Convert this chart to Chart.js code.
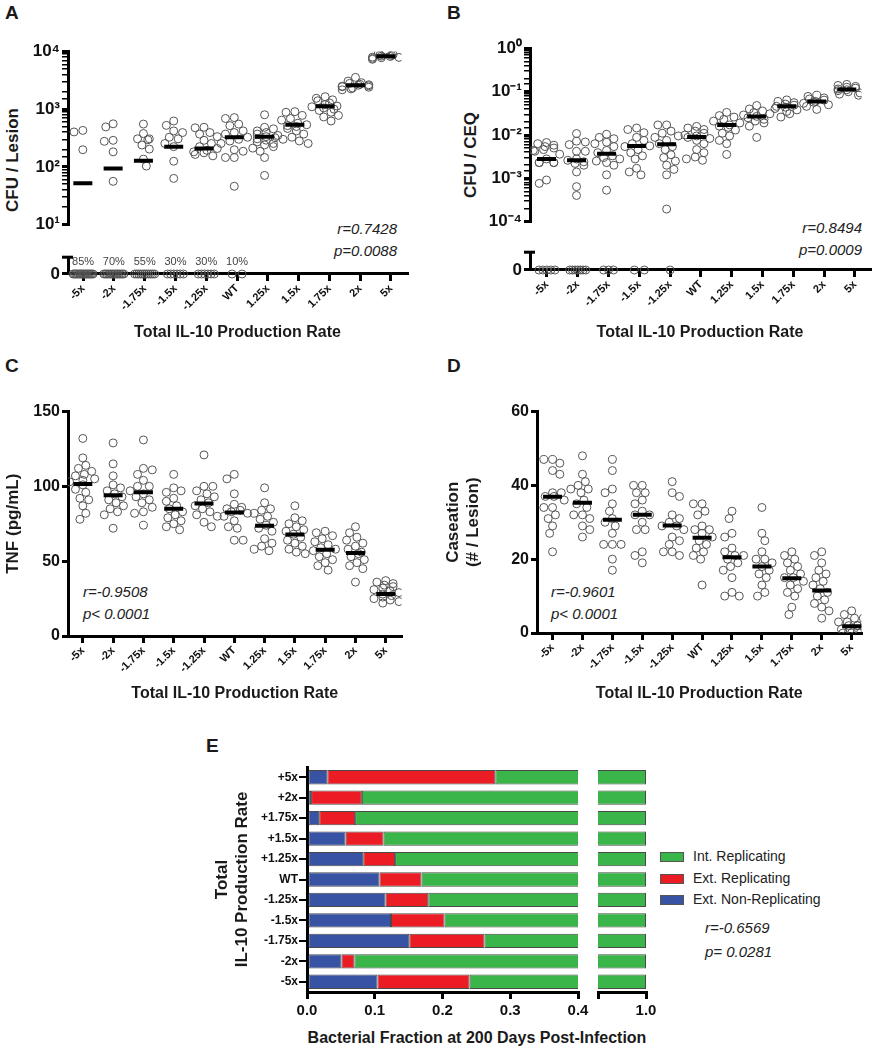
<!DOCTYPE html>
<html lang="en">
<head>
<meta charset="UTF-8">
<title>IL-10 production rate</title>
<script src="https://cdn.jsdelivr.net/npm/chart.js"></script>
<style>
  body { margin: 0; background: #fff; }
  #fig { position: relative; width: 877px; height: 1050px; font-family: "Liberation Sans", Arial, sans-serif; color: #1a1a1a; }
  #fig canvas { position: absolute; }
  .letter { position: absolute; font-weight: bold; font-size: 19px; }
  .stat { position: absolute; font-style: italic; font-size: 15px; line-height: 22px; color: #222; }
  .ytitle { position: absolute; transform: translate(-50%, -50%) rotate(-90deg); font-weight: bold; font-size: 17px; white-space: nowrap; }
  .xtitle { position: absolute; font-weight: bold; font-size: 16px; text-align: center; white-space: nowrap; }
  .leg { position: absolute; font-size: 14px; color: #222; }
  .leg div { height: 21.5px; line-height: 21.5px; white-space: nowrap; }
  .leg span { display: inline-block; width: 22px; height: 8px; border: 1px solid #555; margin-right: 9px; vertical-align: middle; }
</style>
</head>
<body>
<div id="fig">
  <div class="letter" style="left:5px;top:2px">A</div>
  <div class="letter" style="left:447px;top:2px">B</div>
  <div class="letter" style="left:5px;top:355px">C</div>
  <div class="letter" style="left:447px;top:355px">D</div>
  <div class="letter" style="left:206px;top:735px">E</div>

  <div class="ytitle" style="left:13px;top:160px">CFU / Lesion</div>
  <div class="ytitle" style="left:471px;top:155px">CFU / CEQ</div>

  <div class="stat" style="left:297px;top:218px;width:100px;text-align:right">r=0.7428<br>p=0.0088</div>
  <div class="stat" style="left:762px;top:217px;width:100px;text-align:right">r=0.8494<br>p=0.0009</div>
  <div class="stat" style="left:83px;top:581px">r=-0.9508<br>p&lt; 0.0001</div>
  <div class="stat" style="left:551px;top:581px">r=-0.9601<br>p&lt; 0.0001</div>
  <div class="stat" style="left:705px;top:916px;line-height:24px">r=-0.6569<br>p= 0.0281</div>

  <div class="leg" id="legE" style="left:660px;top:846px"></div>
  <div class="xtitle" style="left:277px;top:1028px;width:400px;line-height:20px">Bacterial Fraction at 200 Days Post-Infection</div>

  <canvas id="cA1" width="415" height="200" style="left:0;top:38px"></canvas>
  <canvas id="cA2" width="415" height="97" style="left:0;top:245px"></canvas>
  <canvas id="cB1" width="435" height="200" style="left:440px;top:35px"></canvas>
  <canvas id="cB2" width="435" height="102" style="left:440px;top:240px"></canvas>
  <canvas id="cC" width="415" height="305" style="left:0;top:398px"></canvas>
  <canvas id="cD" width="435" height="305" style="left:440px;top:398px"></canvas>
  <canvas id="cE1" width="392" height="270" style="left:200px;top:755px"></canvas>
  <canvas id="cE2" width="80" height="270" style="left:590px;top:755px"></canvas>
</div>

<script>
// categories (x axis of panels A-D)
const CATS = ['-5x', '-2x', '-1.75x', '-1.5x', '-1.25x', 'WT', '1.25x', '1.5x', '1.75x', '2x', '5x'];

// A: CFU / Lesion (non-zero lesions), medians, lesions at zero
const cfuLesion = [
  [428, 403, 198],
  [557, 492, 288, 277, 182, 56],
  [551, 378, 306, 306, 295, 239, 203, 136, 103],
  [624, 524, 419, 393, 326, 306, 254, 224, 125, 63],
  [485, 475, 393, 370, 334, 288, 254, 224, 208, 193, 182, 175, 164, 155],
  [714, 689, 551, 518, 420, 393, 370, 326, 300, 280, 254, 198, 186, 145, 145, 46],
  [800, 485, 456, 419, 393, 370, 350, 334, 320, 306, 290, 271, 254, 240, 224, 211, 186, 145, 71],
  [906, 884, 780, 689, 647, 571, 537, 518, 500, 463, 419, 370, 326, 300, 281, 254],
  [1644, 1545, 1452, 1400, 1282, 1200, 1133, 1100, 1050, 1000, 950, 884, 780, 733, 624],
  [3558, 3064, 2879, 2800, 2706, 2650, 2600, 2543, 2500, 2450, 2400, 2333, 2250, 2165],
  [10640, 9400, 8830, 8600, 8500, 8300, 8200, 8000, 7900, 7800, 7600, 7330]
];
const cfuLesionMed = [52, 94, 128, 224, 208, 326, 334, 537, 1120, 2600, 8300];
const cfuLesionZero = [17, 14, 11, 6, 6, 2, 0, 0, 0, 0, 0];
const cfuLesionZeroPct = ['85%', '70%', '55%', '30%', '30%', '10%', '', '', '', '', ''];

// B: CFU / CEQ
const cfuCeq = [
  [0.0067, 0.0063, 0.0058, 0.0054, 0.0050, 0.0046, 0.0044, 0.0042, 0.0036, 0.0028, 0.0023, 0.0023, 0.0023, 0.0023, 0.00091, 0.00076],
  [0.0108, 0.0072, 0.0069, 0.0060, 0.0042, 0.0042, 0.0028, 0.0026, 0.0024, 0.0022, 0.0020, 0.0014, 0.00064, 0.0004],
  [0.0104, 0.0088, 0.0082, 0.0068, 0.0063, 0.0054, 0.0044, 0.0039, 0.0033, 0.0030, 0.0028, 0.0025, 0.0023, 0.0020, 0.0012, 0.00053],
  [0.0145, 0.0134, 0.0113, 0.0088, 0.0075, 0.0063, 0.0056, 0.0054, 0.0046, 0.0039, 0.0033, 0.0028, 0.0017, 0.0014, 0.0012],
  [0.0171, 0.0171, 0.0123, 0.0110, 0.0095, 0.0088, 0.0075, 0.0063, 0.0054, 0.0046, 0.0035, 0.0030, 0.0025, 0.0020, 0.0016, 0.0012, 0.000194],
  [0.0158, 0.0145, 0.0134, 0.0123, 0.0110, 0.0100, 0.0095, 0.0088, 0.0083, 0.0075, 0.0063, 0.0046, 0.0039, 0.0031, 0.0028, 0.0026],
  [0.0333, 0.0281, 0.0260, 0.0230, 0.0210, 0.0190, 0.0171, 0.0160, 0.0150, 0.0130, 0.0110, 0.0095, 0.0075, 0.0063, 0.00355],
  [0.048, 0.040, 0.036, 0.033, 0.031, 0.029, 0.027, 0.025, 0.023, 0.021, 0.019, 0.016, 0.0088],
  [0.0647, 0.060, 0.056, 0.052, 0.049, 0.046, 0.044, 0.041, 0.038, 0.035, 0.031, 0.026],
  [0.083, 0.078, 0.072, 0.068, 0.064, 0.060, 0.057, 0.054, 0.050, 0.046, 0.039],
  [0.148, 0.140, 0.133, 0.127, 0.121, 0.116, 0.111, 0.106, 0.100, 0.094, 0.088, 0.083]
];
const cfuCeqMed = [0.0028, 0.0026, 0.0037, 0.0056, 0.0061, 0.0090, 0.0171, 0.0268, 0.0464, 0.0595, 0.112];
const cfuCeqZero = [5, 7, 3, 2, 1, 0, 0, 0, 0, 0, 0];

// C: TNF (pg/mL)
const tnf = [
  [132, 119, 114, 112, 110, 108, 107, 105, 104, 103, 101, 98, 96, 92, 91, 87, 82, 78],
  [129, 115, 107, 101, 99, 97, 95, 93, 91, 89, 87, 85, 83, 81, 72],
  [131, 112, 111, 108, 104, 100, 100, 97, 95, 93, 91, 89, 86, 83, 82, 74],
  [108, 99, 97, 96, 92, 90, 87, 85, 83, 81, 79, 77, 75, 73, 71],
  [121, 100, 100, 97, 95, 93, 91, 89, 87, 85, 83, 81, 80, 76, 73],
  [108, 105, 95, 88, 86, 85, 84, 83, 82, 80, 77, 73, 72, 64, 64],
  [99, 89, 85, 84, 82, 80, 78, 76, 74, 72, 70, 65, 62, 60, 58, 57],
  [87, 79, 77, 75, 73, 71, 70, 68, 66, 64, 62, 60, 58, 56, 55],
  [70, 69, 67, 65, 63, 61, 59, 58, 57, 55, 53, 51, 49, 47, 44],
  [73, 69, 66, 64, 62, 60, 58, 56, 55, 53, 51, 49, 47, 45, 36],
  [37, 36, 35, 34, 33, 32, 31, 30, 29, 28, 27, 26, 25, 24, 23, 22]
];
const tnfMed = [101.5, 94, 96, 85, 88.6, 82.5, 73.7, 67.8, 57.7, 55.5, 28];

// D: Caseation (# / Lesion)
const caseation = [
  [47, 47, 46, 44, 43, 38, 38, 37, 37, 36, 34, 34, 32, 31, 29, 27, 22],
  [48, 43, 41, 40, 39, 39, 38, 36, 35, 34, 32, 32, 31, 29, 28, 26],
  [47, 44, 39, 38, 35, 33, 31, 30, 29, 27, 24, 24, 24, 20, 17],
  [40, 40, 38, 38, 36, 35, 33, 32, 32, 30, 28, 28, 22, 21, 19],
  [41, 38, 37, 32, 31, 30, 29, 29, 28, 26, 25, 24, 22, 22, 21],
  [35, 35, 33, 32, 29, 28, 28, 27, 26, 25, 24, 23, 22, 21, 20, 13],
  [33, 31, 27, 26, 23, 22, 21, 21, 20, 19, 18, 17, 15, 11, 10, 10],
  [34, 27, 25, 22, 20, 20, 19, 18, 17, 16, 15, 13, 11, 10],
  [22, 21, 20, 19, 18, 17, 16, 15, 15, 14, 13, 12, 11, 10, 7, 5],
  [22, 21, 19, 17, 16, 15, 14, 13, 12, 11, 10, 9, 8, 7, 6, 4],
  [6, 5, 4, 4, 3, 3, 2, 2, 2, 1, 1, 1, 0, 0, 0]
];
const caseationMed = [36.9, 35.3, 30.7, 32, 29.1, 25.8, 20.5, 18, 14.8, 11.5, 1.8];

// E: bacterial fractions at 200 days
const eCats = ['-5x', '-2x', '-1.75x', '-1.5x', '-1.25x', 'WT', '+1.25x', '+1.5x', '+1.75x', '+2x', '+5x'];
const eNonRep = [0.104, 0.051, 0.151, 0.124, 0.116, 0.107, 0.083, 0.057, 0.018, 0.006, 0.030];
const eExtRep = [0.136, 0.019, 0.111, 0.079, 0.063, 0.062, 0.047, 0.056, 0.053, 0.075, 0.248];
const eIntRep = [0.760, 0.930, 0.738, 0.797, 0.821, 0.831, 0.870, 0.887, 0.929, 0.919, 0.722];

const FONT = '"Liberation Sans", Arial, Helvetica, sans-serif';
Chart.defaults.font.family = FONT;
Chart.defaults.color = '#111';
Chart.defaults.animation = false;
Chart.defaults.events = [];
Chart.defaults.plugins.legend.display = false;
Chart.defaults.plugins.tooltip.enabled = false;

const X_PX = 30.8; // pixels per category
const SUP = { '0': '⁰', '1': '¹', '2': '²', '3': '³', '4': '⁴', '-': '⁻' };
const axisLine = { display: true, color: '#000', width: 3 };
const tickGrid = len => ({ drawOnChartArea: false, color: '#000', lineWidth: 3, tickLength: len, offset: false });

const isDecade = v => Math.abs(Math.log10(v) - Math.round(Math.log10(v))) < 1e-6;
const pow10 = v => '10' + String(Math.round(Math.log10(v))).split('').map(c => SUP[c]).join('');

// spread points sideways so circles don't sit on top of each other
function swarm(vals, toPx, r) {
  const off = new Array(vals.length).fill(0);
  const placed = [];
  const order = vals.map((v, i) => i).sort((a, b) => vals[b] - vals[a]);
  order.forEach((i, k) => {
    const y = toPx(vals[i]);
    const s = k % 2 ? -1 : 1;
    const cands = [0];
    for (let d = 1.5; d <= 13.5; d += 1.5) cands.push(s * d, -s * d);
    let best = 0, bestHits = Infinity;
    for (const c of cands) {
      let hits = 0;
      placed.forEach(p => { if ((c - p.x) ** 2 + (y - p.y) ** 2 < 4 * r * r) hits++; });
      if (hits < bestHits) { best = c; bestHits = hits; if (!hits) break; }
    }
    off[i] = best;
    placed.push({ x: best, y });
  });
  return off;
}

function dotSets(values, medians, toPx) {
  const pts = [];
  values.forEach((arr, i) => {
    const off = swarm(arr, toPx, 4);
    arr.forEach((v, j) => pts.push({ x: i + off[j] / X_PX, y: v }));
  });
  return [
    { data: medians.map((m, i) => ({ x: i, y: m })), pointStyle: 'line', pointRadius: 9.5,
      pointBorderWidth: 4, pointBorderColor: '#000', borderColor: '#000' },
    { data: pts, pointRadius: 4, pointBorderWidth: 1, pointBorderColor: '#555',
      pointBackgroundColor: 'rgba(255,255,255,0)' }
  ];
}

function catAxis(min, max, h) {
  return {
    type: 'linear', min, max,
    afterBuildTicks: s => { s.ticks = CATS.map((c, i) => ({ value: i })); },
    afterFit: s => { s.height = h; },
    border: axisLine,
    grid: tickGrid(7),
    ticks: { callback: v => CATS[v], minRotation: 45, maxRotation: 45, autoSkip: false,
             font: { size: 11, weight: 'bold' }, color: '#111', padding: 1 },
    title: { display: true, text: 'Total IL-10 Production Rate', color: '#1a1a1a',
             font: { size: 16, weight: 'bold' }, padding: { top: 4, bottom: 0 } }
  };
}

function logAxis(min, max, w) {
  return {
    type: 'logarithmic', min, max,
    afterFit: s => { s.width = w; },
    border: axisLine,
    grid: { drawOnChartArea: false, color: '#000', tickLength: 6,
            lineWidth: c => (c.tick && isDecade(c.tick.value)) ? 3 : 1.5 },
    ticks: { autoSkip: false, callback: v => isDecade(v) ? pow10(v) : '',
             font: { size: 17, weight: 'bold' }, color: '#111', padding: 2 }
  };
}

// short cap at the top of the broken y axis
const capPlugin = {
  id: 'cap',
  afterDraw(chart) {
    const { ctx, chartArea: a } = chart;
    ctx.save();
    ctx.strokeStyle = '#000';
    ctx.lineWidth = 3;
    ctx.beginPath();
    ctx.moveTo(a.left - 6, a.top);
    ctx.lineTo(a.left + 5, a.top);
    ctx.stroke();
    ctx.restore();
  }
};

const pctPlugin = labels => ({
  id: 'pct',
  afterDatasetsDraw(chart) {
    if (!labels) return;
    const { ctx, scales: { x, y } } = chart;
    ctx.save();
    ctx.font = '11px ' + FONT;
    ctx.fillStyle = '#444';
    ctx.textAlign = 'center';
    ctx.textBaseline = 'middle';
    labels.forEach((t, i) => { if (t) ctx.fillText(t, x.getPixelForValue(i), y.getPixelForValue(0) - 12); });
    ctx.restore();
  }
});

function upperChart(id, values, medians, toPx, o) {
  new Chart(document.getElementById(id), {
    type: 'scatter',
    data: { datasets: dotSets(values, medians, toPx) },
    options: {
      responsive: false,
      layout: { padding: { top: 10, bottom: 5, right: o.right, left: 0 } },
      scales: { x: { type: 'linear', min: o.min, max: o.max, display: false }, y: logAxis(o.ymin, o.ymax, o.w) }
    }
  });
}

function zeroChart(id, zeros, pct, o) {
  const pts = [];
  zeros.forEach((n, i) => {
    const spread = n <= 1 ? 0 : n <= 3 ? 5 : n <= 7 ? 8 : 10;
    for (let k = 0; k < n; k++) {
      pts.push({ x: i + (n > 1 ? -spread + 2 * spread * k / (n - 1) : 0) / X_PX, y: 0 });
    }
  });
  new Chart(document.getElementById(id), {
    type: 'scatter',
    data: { datasets: [{ data: pts, clip: false, pointRadius: 4, pointBorderWidth: 1,
                         pointBorderColor: '#555', pointBackgroundColor: 'rgba(255,255,255,0)' }] },
    options: {
      responsive: false,
      layout: { padding: { top: o.top, right: o.right, left: 0, bottom: 0 } },
      scales: {
        x: catAxis(o.min, o.max, o.h),
        y: { min: 0, max: 1,
             afterBuildTicks: s => { s.ticks = [{ value: 0 }]; },
             afterFit: s => { s.width = o.w; },
             border: axisLine, grid: tickGrid(6),
             ticks: { callback: () => '0', font: { size: 17, weight: 'bold' }, color: '#111', padding: 2 } }
      }
    },
    plugins: [capPlugin, pctPlugin(pct)]
  });
}

function linChart(id, values, medians, toPx, o) {
  new Chart(document.getElementById(id), {
    type: 'scatter',
    data: { datasets: dotSets(values, medians, toPx) },
    options: {
      responsive: false,
      layout: { padding: { top: 10, right: o.right, left: 0, bottom: 0 } },
      scales: {
        x: catAxis(o.min, o.max, o.h),
        y: { min: 0, max: o.ymax,
             afterFit: s => { s.width = o.w; },
             border: axisLine, grid: tickGrid(6),
             ticks: { stepSize: o.step, font: { size: 16, weight: 'bold' }, color: '#111', padding: 2 },
             title: { display: true, text: o.title, color: '#1a1a1a',
                      font: { size: 17, weight: 'bold' }, padding: { top: 3, bottom: 0 } } }
      }
    }
  });
}

// Panel A
upperChart('cA1', cfuLesion, cfuLesionMed, v => Math.log10(v) * 61.7,
  { min: -0.49, max: 10.52, right: 8, ymin: 10, ymax: 10000, w: 68 });
zeroChart('cA2', cfuLesionZero, cfuLesionZeroPct, { min: -0.49, max: 10.52, right: 8, top: 7, h: 68, w: 68 });

// Panel B
upperChart('cB1', cfuCeq, cfuCeqMed, v => Math.log10(v) * 46.25,
  { min: -0.55, max: 10.49, right: 5, ymin: 0.0001, ymax: 1, w: 90 });
zeroChart('cB2', cfuCeqZero, null, { min: -0.55, max: 10.49, right: 5, top: 8, h: 72, w: 90 });

// Panel C
linChart('cC', tnf, tnfMed, v => v * 1.52,
  { min: -0.49, max: 10.52, right: 8, h: 67, w: 68, ymax: 150, step: 50, title: 'TNF (pg/mL)' });

// Panel D
linChart('cD', caseation, caseationMed, v => v * 3.75,
  { min: -0.52, max: 10.33, right: 5, h: 70, w: 97, ymax: 60, step: 20, title: ['Caseation', '(# / Lesion)'] });

// Panel E
const eSeries = [
  { label: 'Ext. Non-Replicating', data: eNonRep, color: '#3953a4' },
  { label: 'Ext. Replicating', data: eExtRep, color: '#ec1c24' },
  { label: 'Int. Replicating', data: eIntRep, color: '#3ab54a' }
];
const eSets = () => eSeries.map(s => ({
  label: s.label, data: s.data, backgroundColor: s.color, borderColor: '#4a4a4a', borderWidth: 1,
  borderSkipped: false, categoryPercentage: 1, barPercentage: 0.7
}));

new Chart(document.getElementById('cE1'), {
  type: 'bar',
  data: { labels: eCats, datasets: eSets() },
  options: {
    indexAxis: 'y', responsive: false,
    layout: { padding: { top: 12, right: 14, left: 0, bottom: 0 } },
    scales: {
      x: { stacked: true, min: 0, max: 0.4,
           afterFit: s => { s.height = 33; },
           border: axisLine, grid: tickGrid(7),
           ticks: { stepSize: 0.1, callback: v => v.toFixed(1), font: { size: 15, weight: 'bold' }, color: '#111', padding: 3 } },
      y: { stacked: true, reverse: true,
           afterFit: s => { s.width = 107; },
           border: axisLine, grid: { drawOnChartArea: false, color: '#000', lineWidth: 2, tickLength: 8, offset: false },
           ticks: { font: { size: 12, weight: 'bold' }, color: '#111', padding: 1 },
           title: { display: true, text: ['Total', 'IL-10 Production Rate'], color: '#1a1a1a',
                    font: { size: 17, weight: 'bold' }, padding: { top: 12, bottom: 0 } } }
    }
  }
});

new Chart(document.getElementById('cE2'), {
  type: 'bar',
  data: { labels: eCats, datasets: eSets() },
  options: {
    indexAxis: 'y', responsive: false,
    layout: { padding: { top: 12, right: 24, left: 8, bottom: 0 } },
    scales: {
      x: { stacked: true, min: 0.9, max: 1,
           afterBuildTicks: s => { s.ticks = [{ value: 0.9 }, { value: 1 }]; },
           afterFit: s => { s.height = 33; },
           border: axisLine, grid: tickGrid(7),
           ticks: { callback: v => v > 0.95 ? '1.0' : '', font: { size: 15, weight: 'bold' }, color: '#111', padding: 3 } },
      y: { stacked: true, reverse: true, display: false }
    }
  }
});

// legend for E, listed top to bottom like the figure
const legE = document.getElementById('legE');
eSeries.slice().reverse().forEach(s => {
  const row = document.createElement('div');
  const box = document.createElement('span');
  box.style.background = s.color;
  row.appendChild(box);
  row.appendChild(document.createTextNode(s.label));
  legE.appendChild(row);
});
</script>
</body>
</html>
